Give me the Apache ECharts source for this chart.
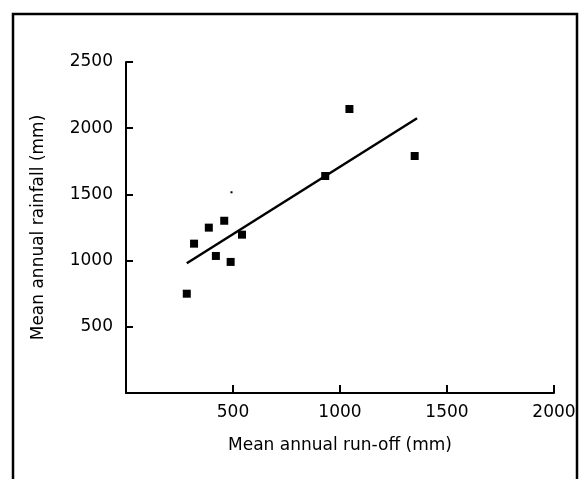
<!DOCTYPE html>
<html>
<head>
<meta charset="utf-8">
<script src="https://cdn.jsdelivr.net/npm/echarts@6/dist/echarts.min.js"></script>
<style>
html,body{margin:0;padding:0;background:#fff;}
#chart{width:580px;height:479px;}
</style>
</head>
<body>
<div id="chart"></div>
<script>
// Data
var runoff   = [284, 318, 387, 459, 420, 489, 542, 931, 1044, 1349];
var rainfall = [750, 1128, 1249, 1301, 1035, 990, 1196, 1639, 2145, 1790];
var fitX = [284, 1360];
var fitY = [980, 2075];
var speckX = [493];
var speckY = [1516];
var xTicks = [0, 500, 1000, 1500, 2000];
var yTicks = [0, 500, 1000, 1500, 2000, 2500];

var pts = runoff.map(function (x, i) { return [x, rainfall[i]]; });
var fit = fitX.map(function (x, i) { return [x, fitY[i]]; });
var speck = speckX.map(function (x, i) { return [x, speckY[i]]; });

var font = 'DejaVu Sans';
var chart = echarts.init(document.getElementById('chart'), null, {renderer: 'canvas'});
chart.setOption({
  animation: false,
  backgroundColor: '#fff',
  graphic: [{
    type: 'rect',
    shape: {x: 13, y: 14, width: 564, height: 520},
    style: {fill: 'none', stroke: '#000', lineWidth: 2.5},
    z: 100
  }],
  grid: {left: 126, right: 26, top: 62, bottom: 86},
  xAxis: {
    type: 'value',
    min: xTicks[0], max: xTicks[xTicks.length - 1], interval: 500,
    name: 'Mean annual run-off (mm)',
    nameLocation: 'middle', nameGap: 44,
    nameTextStyle: {fontFamily: font, fontSize: 17, color: '#000'},
    axisLine: {show: true, onZero: false, lineStyle: {color: '#000', width: 2}},
    axisTick: {show: true, inside: true, length: 8, lineStyle: {color: '#000', width: 2}},
    axisLabel: {
      margin: 11, fontFamily: font, fontSize: 17, color: '#000',
      formatter: function (v) { return v === 0 ? '' : String(v); }
    },
    splitLine: {show: false}
  },
  yAxis: {
    type: 'value',
    min: yTicks[0], max: yTicks[yTicks.length - 1], interval: 500,
    name: 'Mean annual rainfall (mm)',
    nameLocation: 'middle', nameGap: 79, nameRotate: 90,
    nameTextStyle: {fontFamily: font, fontSize: 17, color: '#000'},
    axisLine: {show: true, onZero: false, lineStyle: {color: '#000', width: 2}},
    axisTick: {show: true, inside: true, length: 7, lineStyle: {color: '#000', width: 2}},
    axisLabel: {
      margin: 13, fontFamily: font, fontSize: 17, color: '#000',
      formatter: function (v) { return v === 0 ? '' : String(v); }
    },
    splitLine: {show: false}
  },
  series: [
    {
      type: 'line', data: fit, symbol: 'none',
      lineStyle: {color: '#000', width: 2.5}, z: 2
    },
    {
      type: 'scatter', data: pts, symbol: 'rect', symbolSize: 8,
      itemStyle: {color: '#000', opacity: 1}, z: 3
    },
    {
      type: 'scatter', data: speck, symbol: 'rect', symbolSize: 2,
      itemStyle: {color: '#000', opacity: 1}, z: 3
    }
  ]
});
</script>
</body>
</html>
